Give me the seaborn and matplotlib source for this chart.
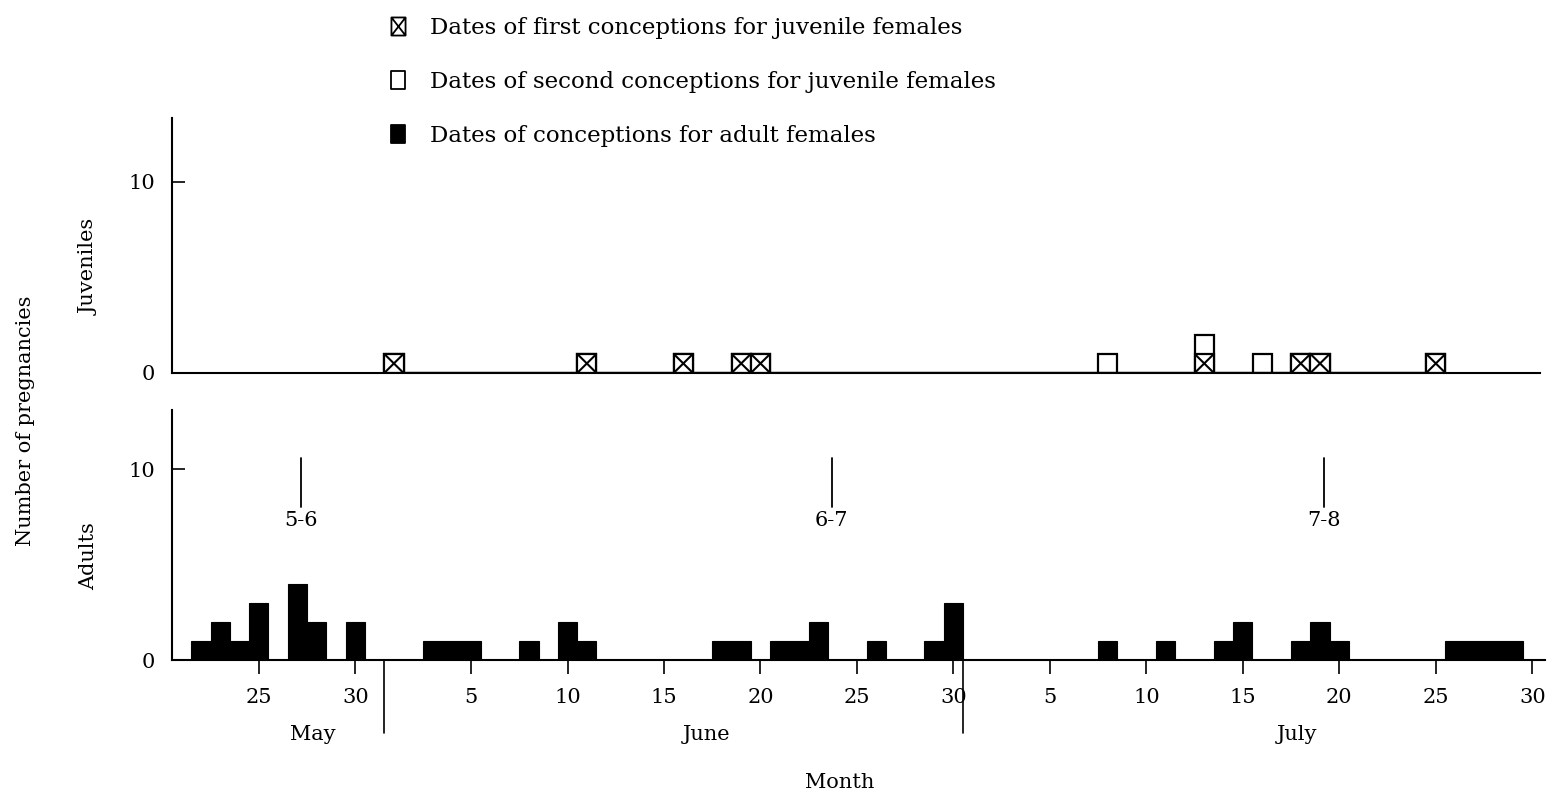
import matplotlib
matplotlib.use("Agg")
import matplotlib.pyplot as plt
import pandas as pd
import seaborn as sns
from matplotlib.lines import Line2D
from matplotlib.path import Path

# Dates are written as "MM-DD"; these offsets put May-July on one day axis
MONTH_OFFSET = {"05": 0, "06": 31, "07": 61}


def to_day(date):
    month, day = date.split("-")
    return MONTH_OFFSET[month] + int(day)


# Juvenile females: one entry per conception
juv_first_dates = ["06-01", "06-11", "06-16", "06-19", "06-20",
                   "07-13", "07-18", "07-19", "07-25"]
juv_second_dates = ["07-08", "07-13", "07-16"]

# Adult females: number of conceptions on each date
adult_dates = ["05-22", "05-23", "05-24", "05-25", "05-27", "05-28", "05-30",
               "06-03", "06-04", "06-05", "06-08", "06-10", "06-11",
               "06-18", "06-19", "06-21", "06-22", "06-23", "06-26",
               "06-29", "06-30",
               "07-08", "07-11", "07-14", "07-15", "07-18", "07-19", "07-20",
               "07-26", "07-27", "07-28", "07-29"]
adult_counts = [1, 2, 1, 3, 4, 2, 2,
                1, 1, 1, 1, 2, 1,
                1, 1, 1, 1, 2, 1,
                1, 3,
                1, 1, 1, 2, 1, 2, 1,
                1, 1, 1, 1]

# Age class (months) markers along the season
age_labels = ["5-6", "6-7", "7-8"]
age_days = [27.2, 54.7, 80.2]

# Day ticks and labels
tick_dates = ["05-25", "05-30",
              "06-05", "06-10", "06-15", "06-20", "06-25", "06-30",
              "07-05", "07-10", "07-15", "07-20", "07-25", "07-30"]
tick_labels = ["25", "30", "5", "10", "15", "20", "25", "30",
               "5", "10", "15", "20", "25", "30"]
month_names = ["May", "June", "July"]
month_label_days = [27.8, 48.2, 78.8]
month_breaks = [31.5, 61.5]

legend_labels = ["Dates of first conceptions for juvenile females",
                 "Dates of second conceptions for juvenile females",
                 "Dates of conceptions for adult females"]

sns.set_theme(style="white")
plt.rcParams["font.family"] = ["DejaVu Serif"]
plt.rcParams["text.color"] = "black"
FS = 15
FS_LEG = 16.5

W, H = 1559, 794
fig = plt.figure(figsize=(W / 100, H / 100), dpi=100)
fig.patch.set_facecolor("white")


def add_axes_px(left, top, right, bottom):
    return fig.add_axes([left / W, 1 - bottom / H, (right - left) / W, (bottom - top) / H])


ax_j = add_axes_px(172, 118, 1540, 373)
ax_a = add_axes_px(172, 410, 1545, 660)

# --- Juveniles: open boxes, first conceptions crossed ---
juv_all = pd.DataFrame({"day": [to_day(d) for d in juv_first_dates + juv_second_dates]})
juv_first = pd.DataFrame({"day": [to_day(d) for d in juv_first_dates]})

sns.histplot(data=juv_all, x="day", discrete=True, color="white",
             edgecolor="black", linewidth=1.6, alpha=1, ax=ax_j)
sns.histplot(data=juv_first, x="day", discrete=True, color="white",
             edgecolor="black", linewidth=1.6, alpha=1, ax=ax_j)
for patch in ax_j.containers[-1]:
    h = patch.get_height()
    if h <= 0:
        continue
    x0, y0, w = patch.get_x(), patch.get_y(), patch.get_width()
    ax_j.plot([x0, x0 + w], [y0, y0 + h], color="black", lw=1.5, solid_capstyle="butt")
    ax_j.plot([x0, x0 + w], [y0 + h, y0], color="black", lw=1.5, solid_capstyle="butt")

# --- Adults: solid black bars ---
adults = pd.DataFrame({"day": [to_day(d) for d in adult_dates], "n": adult_counts})
sns.histplot(data=adults, x="day", weights="n", discrete=True, color="black",
             edgecolor="black", linewidth=0.8, alpha=1, ax=ax_a)

for lab, d in zip(age_labels, age_days):
    ax_a.plot([d, d], [8.0, 10.6], color="black", lw=1.3)
    ax_a.text(d, 7.3, lab, ha="center", va="center", fontsize=FS)

# --- Shared axis styling ---
for ax, ymax, xmax in [(ax_j, 13.35, 91.4), (ax_a, 13.1, 91.66)]:
    ax.set_xlim(20.5, xmax)
    ax.set_ylim(0, ymax)
    ax.set_facecolor("white")
    sns.despine(ax=ax)
    for side in ("left", "bottom"):
        ax.spines[side].set_color("black")
        ax.spines[side].set_linewidth(1.5)
    ax.set_yticks([0, 10])
    ax.set_yticklabels(["0", "10"])
    ax.tick_params(axis="y", left=True, direction="in", length=9, width=1.2,
                   pad=12, labelsize=FS, colors="black")
    ax.set_xlabel("")
    ax.set_ylabel("")
    ax.grid(False)

ax_j.set_xticks([])

ax_a.set_xticks([to_day(d) for d in tick_dates])
ax_a.set_xticklabels(tick_labels)
ax_a.tick_params(axis="x", bottom=True, direction="out", length=10, width=1.2,
                 pad=10, labelsize=FS, colors="black")

xform = ax_a.get_xaxis_transform()
for b in month_breaks:
    ax_a.plot([b, b], [0, -0.29], transform=xform, color="black", lw=1.2, clip_on=False)
for name, d in zip(month_names, month_label_days):
    ax_a.text(d, -0.30, name, transform=xform, ha="center", va="center", fontsize=FS)

# --- Figure-level labels ---
fig.text(26 / W, 1 - 421 / H, "Number of pregnancies", rotation=90,
         ha="center", va="center", fontsize=FS)
fig.text(89 / W, 1 - 267 / H, "Juveniles", rotation=90, ha="center", va="center", fontsize=FS)
fig.text(89 / W, 1 - 556 / H, "Adults", rotation=90, ha="center", va="center", fontsize=FS)
fig.text(840 / W, 1 - 783 / H, "Month", ha="center", va="center", fontsize=FS)

# --- Legend ---
rect = [(-0.78, -1), (0.78, -1), (0.78, 1), (-0.78, 1), (-0.78, -1)]
box_path = Path(rect, [Path.MOVETO, Path.LINETO, Path.LINETO, Path.LINETO, Path.CLOSEPOLY])
cross_path = Path(rect + [(-0.78, -1), (0.78, 1), (-0.78, 1), (0.78, -1)],
                  [Path.MOVETO, Path.LINETO, Path.LINETO, Path.LINETO, Path.CLOSEPOLY,
                   Path.MOVETO, Path.LINETO, Path.MOVETO, Path.LINETO])
handles = [
    Line2D([], [], ls="none", marker=cross_path, markersize=13, mfc="none",
           mec="black", mew=1.3),
    Line2D([], [], ls="none", marker=box_path, markersize=13, mfc="white",
           mec="black", mew=1.3),
    Line2D([], [], ls="none", marker=box_path, markersize=13, mfc="black",
           mec="black", mew=1.3),
]
fig.legend(handles, legend_labels, loc="upper left",
           bbox_to_anchor=(389 / W, 1 - 17 / H), frameon=False, fontsize=FS_LEG,
           borderpad=0, borderaxespad=0, handlelength=0.8, handletextpad=1.0,
           labelspacing=1.4, numpoints=1)

fig.savefig("out.png", dpi=100, facecolor="white")
